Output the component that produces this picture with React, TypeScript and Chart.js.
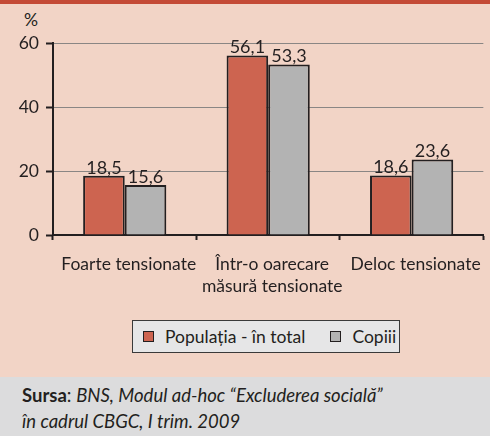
import React, { useEffect, useRef } from "react";
import { Chart, registerables } from "chart.js";

Chart.register(...registerables);

const categories: string[][] = [
  ["Foarte tensionate"],
  ["Într-o oarecare", "măsură tensionate"],
  ["Deloc tensionate"],
];
const seriesNames = ["Populația - în total", "Copiii"];
const populatie = [18.5, 56.1, 18.6];
const copii = [15.6, 53.3, 23.6];
const seriesColors = ["#cd6450", "#b3b3b3"];
const yTicks = [0, 20, 40, 60];

const DARK = "#231f20";
const FONT = "Lato";

const fmt = (v: number) => v.toFixed(1).replace(".", ",");

const valueLabels = {
  id: "valueLabels",
  afterDatasetsDraw(chart: any) {
    const ctx = chart.ctx;
    ctx.save();
    ctx.font = `18px ${FONT}`;
    ctx.fillStyle = DARK;
    ctx.textAlign = "center";
    ctx.textBaseline = "alphabetic";
    chart.data.datasets.forEach((ds: any, i: number) => {
      const meta = chart.getDatasetMeta(i);
      meta.data.forEach((bar: any, j: number) => {
        ctx.fillText(fmt(ds.data[j]), bar.x, bar.y - 2);
      });
    });
    ctx.restore();
  },
};

export default function App() {
  const ref = useRef<HTMLCanvasElement>(null);
  useEffect(() => {
    document.body.style.margin = "0";
    const chart = new Chart(ref.current!, {
      type: "bar",
      data: {
        labels: categories,
        datasets: [
          {
            label: seriesNames[0],
            data: populatie,
            backgroundColor: seriesColors[0],
            borderColor: DARK,
            borderWidth: 2,
          },
          {
            label: seriesNames[1],
            data: copii,
            backgroundColor: seriesColors[1],
            borderColor: DARK,
            borderWidth: 2,
          },
        ],
      },
      options: {
        animation: false,
        responsive: false,
        maintainAspectRatio: false,
        layout: { padding: { top: 43, right: 2, left: 0, bottom: 0 } },
        plugins: { legend: { display: false }, tooltip: { enabled: false } },
        datasets: { bar: { categoryPercentage: 0.58, barPercentage: 1 } },
        scales: {
          x: {
            offset: true,
            grid: {
              offset: true,
              drawOnChartArea: false,
              tickLength: 5,
              tickColor: DARK,
              tickWidth: 2,
            },
            border: { color: DARK, width: 2 },
            ticks: {
              color: DARK,
              font: { family: FONT, size: 17.5, lineHeight: 1.27 },
              padding: 13,
              labelOffset: 4,
              maxRotation: 0,
              autoSkip: false,
            },
            afterFit: (s: any) => {
              s.height = 65;
            },
          },
          y: {
            min: 0,
            max: 60,
            afterBuildTicks: (s: any) => {
              s.ticks = yTicks.map((v) => ({ value: v }));
            },
            grid: {
              color: (c: any) => (c.tick && c.tick.value === 0 ? "rgba(0,0,0,0)" : "#8a8684"),
              lineWidth: 1,
              tickLength: 7,
              tickColor: DARK,
              tickWidth: 2,
            },
            border: { color: DARK, width: 2 },
            ticks: {
              color: DARK,
              font: { family: FONT, size: 17.5 },
              padding: 7,
              callback: (v: any) => String(v),
            },
            afterFit: (s: any) => {
              s.width = 53;
            },
          },
        },
      },
      plugins: [valueLabels],
    });
    return () => chart.destroy();
  }, []);

  return (
    <div
      style={{
        position: "relative",
        width: 490,
        height: 436,
        background: "#f2d4c6",
        overflow: "hidden",
        fontFamily: FONT,
        color: DARK,
      }}
    >
      <div style={{ position: "absolute", left: 0, top: 0, width: 490, height: 4, background: "#c44a36" }} />
      <div style={{ position: "absolute", left: 21, top: 9, width: 20, textAlign: "center", fontSize: 17.5 }}>%</div>
      <canvas ref={ref} width={490} height={300} style={{ position: "absolute", left: 0, top: 0 }} />
      <div
        style={{
          position: "absolute",
          left: 132,
          top: 320,
          width: 266,
          height: 31,
          background: "#e6e6e7",
          border: "1.5px solid #3a3a3a",
          display: "flex",
          alignItems: "center",
          fontSize: 17.5,
        }}
      >
        {seriesNames.map((n, i) => (
          <div key={n} style={{ display: "flex", alignItems: "center", marginLeft: i === 0 ? 10 : 25 }}>
            <span
              style={{
                display: "inline-block",
                width: 9,
                height: 9,
                background: seriesColors[i],
                border: `1.5px solid ${DARK}`,
                marginRight: 11,
              }}
            />
            <span>{n}</span>
          </div>
        ))}
      </div>
      <div
        style={{
          position: "absolute",
          left: 0,
          top: 377,
          width: 490,
          height: 59,
          background: "#dcdcdd",
        }}
      >
        <div style={{ position: "absolute", left: 22, top: 5, fontSize: 18.5, lineHeight: "26px" }}>
          <b>Sursa</b>: <i>BNS, Modul ad-hoc “Excluderea socială”</i>
          <br />
          <i>în cadrul CBGC, I trim. 2009</i>
        </div>
      </div>
    </div>
  );
}
